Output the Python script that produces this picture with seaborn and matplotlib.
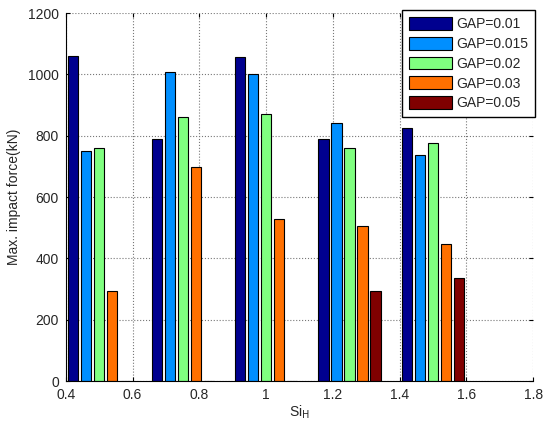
import matplotlib
matplotlib.use("Agg")
import matplotlib.pyplot as plt
import seaborn as sns
import pandas as pd

# data
si_h = [0.5, 0.75, 1.0, 1.25, 1.5]
gaps = ["GAP=0.01", "GAP=0.015", "GAP=0.02", "GAP=0.03", "GAP=0.05"]
force_001 = [1060, 790, 1057, 790, 826]
force_0015 = [751, 1008, 1001, 842, 737]
force_002 = [759, 860, 872, 759, 775]
force_003 = [294, 699, 528, 505, 447]
force_005 = [0, 0, 0, 294, 336]
colors = ["#00008F", "#008FFF", "#80FF80", "#FF7000", "#800000"]

rows = []
for gap, vals in zip(gaps, [force_001, force_0015, force_002, force_003, force_005]):
    for x, v in zip(si_h, vals):
        rows.append({"SiH": x, "GAP": gap, "force": v})
df = pd.DataFrame(rows)

sns.set_style("white")
plt.rcParams['font.family'] = ['Liberation Sans', 'DejaVu Sans']

fig = plt.figure(figsize=(5.44, 4.23), dpi=100)
ax = fig.add_axes([0.121, 0.099, 0.859, 0.870])

sns.barplot(data=df, x="SiH", y="force", hue="GAP", hue_order=gaps,
            palette=colors, native_scale=True, width=0.78, gap=0.22,
            edgecolor="black", linewidth=0.8, saturation=1, errorbar=None, ax=ax)

ax.set_xlim(0.4, 1.8)
ax.set_ylim(0, 1200)
ax.set_xticks([0.4, 0.6, 0.8, 1.0, 1.2, 1.4, 1.6, 1.8])
ax.set_xticklabels(["0.4", "0.6", "0.8", "1", "1.2", "1.4", "1.6", "1.8"])
ax.set_yticks(range(0, 1201, 200))
ax.tick_params(direction="in", length=3, labelsize=10, top=True, right=True,
               bottom=True, left=True, color="black")
ax.tick_params(axis="x", pad=5)
ax.tick_params(axis="y", pad=5)
ax.grid(True, linestyle=":", color="#777777", linewidth=0.8)
ax.set_axisbelow(True)
for side in ["top", "right"]:
    ax.spines[side].set_visible(False)
for side in ["left", "bottom"]:
    ax.spines[side].set_color("black")
    ax.spines[side].set_linewidth(0.8)

ax.set_xlabel("Si$_\\mathrm{H}$", fontsize=10, labelpad=1)
ax.set_ylabel("Max. impact force(kN)", fontsize=10, labelpad=5)

leg = ax.legend(loc="upper right", bbox_to_anchor=(1.004, 1.008), fontsize=10,
                fancybox=False, framealpha=1, edgecolor="black",
                handlelength=3.1, handleheight=1.05, borderaxespad=0,
                labelspacing=0.4, handletextpad=0.3, borderpad=0.5)
leg.get_frame().set_linewidth(1.0)

plt.savefig("out.png", dpi=100)
